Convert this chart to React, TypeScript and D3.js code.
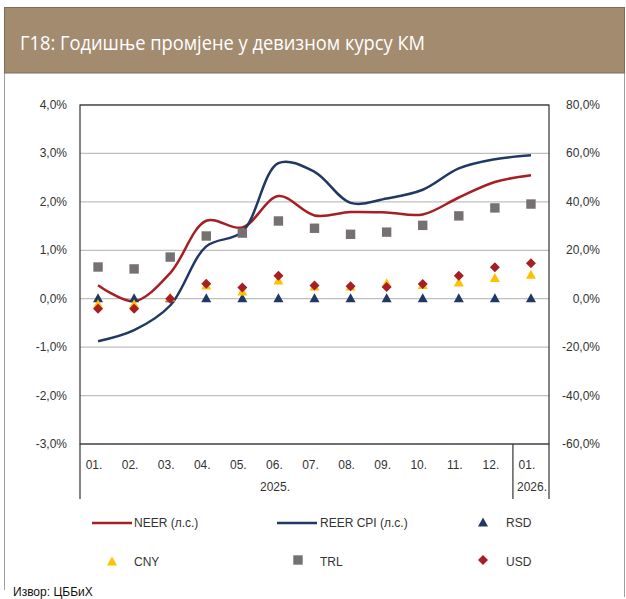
import React from "react";
import * as d3 from "d3";

const months = ["01.", "02.", "03.", "04.", "05.", "06.", "07.", "08.", "09.", "10.", "11.", "12.", "01."];
const years = [
  { label: "2025.", x: 275 },
  { label: "2026.", x: 532 },
];
const neer = [0.28, -0.05, 0.53, 1.61, 1.47, 2.12, 1.72, 1.79, 1.78, 1.74, 2.09, 2.41, 2.55];
const reer = [-0.88, -0.65, -0.14, 1.08, 1.38, 2.8, 2.62, 1.98, 2.07, 2.25, 2.69, 2.88, 2.96];
const rsd = [0, 0, 0, 0, 0, 0, 0, 0, 0, 0, 0, 0, 0];
const cny = [-2.5, -2.5, 0.3, 5.2, 2.8, 7.3, 4.8, 4.8, 6.2, 5.5, 6.5, 8.3, 9.7];
const trl = [13.1, 12.3, 17.2, 25.9, 27.1, 32.1, 29.1, 26.6, 27.5, 30.3, 34.2, 37.5, 39.1];
const usd = [-4.1, -4.1, 0, 6.2, 4.6, 9.5, 5.5, 5.1, 4.8, 6.1, 9.5, 13.0, 14.6];
const leftTicks = [-3, -2, -1, 0, 1, 2, 3, 4];
const rightTicks = [-60, -40, -20, 0, 20, 40, 60, 80];
const title = "Г18: Годишње промјене у девизном курсу КМ";
const source = "Извор: ЦББиХ";

const C = {
  header: "#A38B70",
  neer: "#A51F24",
  reer: "#1F3864",
  rsd: "#1F3864",
  cny: "#FFC000",
  trl: "#767171",
  usd: "#A51F24",
  grid: "#BFBFBF",
  axis: "#333333",
  text: "#333333",
};

const FONT = "'Liberation Sans', Arial, sans-serif";

const fmt = (v: number) => d3.format(".1f")(v).replace(".", ",").replace("\u2212", "-") + "%";

function tri(cx: number, cy: number, s: number) {
  const h = s * 0.9;
  return `M${cx},${cy - h / 2 - 1}L${cx + s / 2},${cy + h / 2 - 1}L${cx - s / 2},${cy + h / 2 - 1}Z`;
}
function diamond(cx: number, cy: number, s: number) {
  const r = s / 2;
  return `M${cx},${cy - r}L${cx + r},${cy}L${cx},${cy + r}L${cx - r},${cy}Z`;
}

export default function App() {
  const L = 80, R = 549, T = 105, B = 444;
  const x = d3.scaleBand<number>().domain(d3.range(months.length)).range([L, R]);
  const cx = (i: number) => (x(i) as number) + x.bandwidth() / 2;
  const yL = d3.scaleLinear().domain([-3, 4]).range([B, T]);
  const yR = d3.scaleLinear().domain([-60, 80]).range([B, T]);
  const line = (arr: number[]) =>
    d3.line<number>().x((_, i) => cx(i)).y((d) => yL(d)).curve(d3.curveCatmullRom.alpha(0.5))(arr) as string;
  const sepX = x(12) as number;

  return (
    <svg width={626} height={599} style={{ position: "absolute", left: 0, top: 0, display: "block" }} fontFamily={FONT}>
      <rect x={0} y={0} width={626} height={599} fill="#fff" />
      {/* outer frame */}
      <line x1={4.5} y1={73} x2={4.5} y2={590} stroke="#A0A0A0" strokeWidth={1} />
      <line x1={624.5} y1={73} x2={624.5} y2={597} stroke="#A0A0A0" strokeWidth={1} />
      {/* header */}
      <rect x={4.5} y={7.5} width={620} height={65.5} fill={C.header} stroke="#7d6b58" strokeWidth={1} />
      <text x={20} y={50} fill="#fff" fontSize={20} fontFamily="'Open Sans', 'Noto Sans', sans-serif" textLength={405} lengthAdjust="spacingAndGlyphs">
        {title}
      </text>

      {/* gridlines */}
      {leftTicks.map((t) => (
        <line key={"g" + t} x1={L} x2={R} y1={yL(t)} y2={yL(t)} stroke={C.grid} strokeWidth={1.3} />
      ))}
      {/* frame */}
      <rect x={L} y={T} width={R - L} height={B - T} fill="none" stroke={C.axis} strokeWidth={1.2} />
      {/* category separators */}
      {[L, sepX, R].map((sx, i) => (
        <line key={"s" + i} x1={sx} x2={sx} y1={B} y2={499} stroke={C.axis} strokeWidth={1.2} />
      ))}

      {/* left ticks */}
      {leftTicks.map((t) => (
        <text key={"l" + t} x={67} y={yL(t) + 4} textAnchor="end" fontSize={12} fill={C.text}>
          {fmt(t)}
        </text>
      ))}
      {/* right ticks */}
      {rightTicks.map((t) => (
        <text key={"r" + t} x={600} y={yR(t) + 4} textAnchor="end" fontSize={12} fill={C.text}>
          {fmt(t)}
        </text>
      ))}
      {/* month labels */}
      {months.map((m, i) => (
        <text key={"m" + i} x={cx(i) - 4} y={469} textAnchor="middle" fontSize={12} fill={C.text}>
          {m}
        </text>
      ))}
      {years.map((y) => (
        <text key={y.label} x={y.x} y={491} textAnchor="middle" fontSize={12} fill={C.text}>
          {y.label}
        </text>
      ))}

      {/* lines */}
      <path d={line(neer)} fill="none" stroke={C.neer} strokeWidth={2.5} />
      <path d={line(reer)} fill="none" stroke={C.reer} strokeWidth={2.5} />

      {/* markers */}
      {rsd.map((v, i) => (
        <path key={"rsd" + i} d={tri(cx(i), yR(v), 10)} fill={C.rsd} />
      ))}
      {cny.map((v, i) => (
        <path key={"cny" + i} d={tri(cx(i), yR(v), 10)} fill={C.cny} />
      ))}
      {trl.map((v, i) => (
        <rect key={"trl" + i} x={cx(i) - 4.7} y={yR(v) - 4.7} width={9.4} height={9.4} fill={C.trl} />
      ))}
      {usd.map((v, i) => (
        <path key={"usd" + i} d={diamond(cx(i), yR(v), 10)} fill={C.usd} />
      ))}

      {/* legend */}
      <line x1={92} x2={132} y1={523} y2={523} stroke={C.neer} strokeWidth={2.5} />
      <text x={134} y={527} fontSize={12} fill={C.text}>NEER (л.с.)</text>
      <line x1={277} x2={317} y1={523} y2={523} stroke={C.reer} strokeWidth={2.5} />
      <text x={320} y={527} fontSize={12} fill={C.text}>REER CPI (л.с.)</text>
      <path d={tri(483, 523, 10)} fill={C.rsd} />
      <text x={506} y={527} fontSize={12} fill={C.text}>RSD</text>

      <path d={tri(112, 562, 10)} fill={C.cny} />
      <text x={134} y={566} fontSize={12} fill={C.text}>CNY</text>
      <rect x={298 - 4.7} y={560 - 4.7} width={9.4} height={9.4} fill={C.trl} />
      <text x={320} y={566} fontSize={12} fill={C.text}>TRL</text>
      <path d={diamond(483, 560, 10)} fill={C.usd} />
      <text x={506} y={566} fontSize={12} fill={C.text}>USD</text>

      <text x={13} y={596} fontSize={12} fill="#111">{source}</text>
    </svg>
  );
}
